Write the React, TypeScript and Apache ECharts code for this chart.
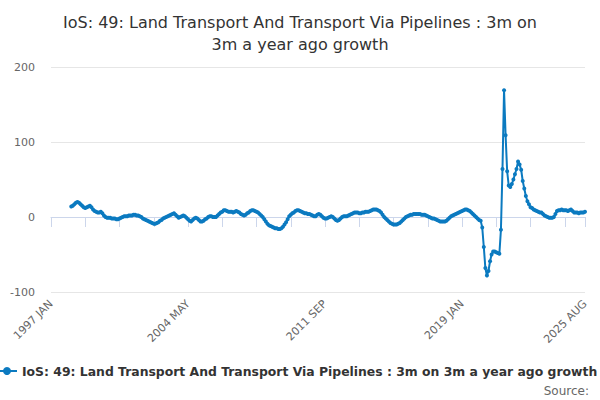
import React, { useEffect, useRef } from "react";
import * as echarts from "echarts";

const TITLE = "IoS: 49: Land Transport And Transport Via Pipelines : 3m on\n3m a year ago growth";
const SERIES_NAME = "IoS: 49: Land Transport And Transport Via Pipelines : 3m on 3m a year ago growth";
const MONTHS = ["JAN", "FEB", "MAR", "APR", "MAY", "JUN", "JUL", "AUG", "SEP", "OCT", "NOV", "DEC"];
const FIRST_YEAR = 1997;
const LAST_YEAR = 2025;
const LAST_MONTH_INDEX = 7; // AUG

const Y_TICKS = [-100, 0, 100, 200];

// one row per year, Jan..Dec
const v1997 = [null, null, null, null, null, null, null, null, null, null, null, null];
const v1998 = [null, 14, 15, 17, 19, 20, 19, 17, 15, 13, 12, 13];
const v1999 = [14, 15, 13, 10, 8, 7, 6, 6, 7, 5, 2, 0];
const v2000 = [-1, -1, -1, -2, -2, -2, -3, -3, -2, -1, 0, 1];
const v2001 = [1, 1, 2, 2, 2, 3, 3, 2, 2, 1, 0, -2];
const v2002 = [-3, -4, -5, -6, -7, -8, -9, -9, -8, -7, -5, -4];
const v2003 = [-2, -1, 0, 1, 2, 3, 4, 5, 3, 1, -1, 0];
const v2004 = [1, 2, 1, -1, -3, -5, -6, -4, -2, -1, -2, -4];
const v2005 = [-6, -6, -5, -3, -2, 0, 1, 1, 0, 0, 0, 2];
const v2006 = [4, 6, 7, 9, 9, 8, 7, 7, 7, 6, 7, 8];
const v2007 = [7, 6, 4, 3, 2, 3, 5, 6, 8, 9, 9, 8];
const v2008 = [7, 6, 4, 2, 0, -3, -6, -9, -11, -12, -13, -14];
const v2009 = [-15, -15, -16, -16, -15, -13, -10, -7, -3, 1, 3, 5];
const v2010 = [6, 8, 9, 9, 8, 7, 6, 5, 5, 4, 4, 3];
const v2011 = [2, 1, 1, 3, 4, 3, 1, -1, -2, -2, -1, 0];
const v2012 = [1, 0, -2, -4, -5, -4, -2, 0, 1, 1, 1, 2];
const v2013 = [3, 4, 5, 6, 6, 6, 5, 5, 6, 6, 7, 7];
const v2014 = [7, 8, 9, 10, 10, 10, 9, 8, 6, 3, 0, -2];
const v2015 = [-4, -6, -8, -9, -10, -10, -10, -9, -8, -6, -4, -2];
const v2016 = [0, 1, 2, 3, 3, 4, 4, 4, 4, 4, 3, 3];
const v2017 = [3, 2, 1, 0, -1, -2, -2, -3, -4, -5, -6, -6];
const v2018 = [-6, -6, -5, -3, -1, 1, 2, 3, 4, 5, 6, 7];
const v2019 = [8, 9, 10, 10, 9, 8, 6, 4, 2, 0, -2, -4];
const v2020 = [-5, -14, -40, -68, -78, -72, -59, -50, -46, -46, -47, -48];
const v2021 = [-49, -17, 64, 169, 109, 61, 42, 40, 44, 50, 57, 64];
const v2022 = [74, 70, 63, 48, 38, 28, 21, 17, 13, 12, 10, 9];
const v2023 = [8, 7, 6, 6, 4, 2, 1, 0, -1, -1, -1, 0];
const v2024 = [4, 8, 9, 9, 10, 9, 9, 9, 8, 9, 10, 8];
const v2025 = [6, 6, 6, 5, 6, 6, 6, 7];

const YEAR_ROWS = [
  v1997, v1998, v1999, v2000, v2001, v2002, v2003, v2004, v2005, v2006,
  v2007, v2008, v2009, v2010, v2011, v2012, v2013, v2014, v2015, v2016,
  v2017, v2018, v2019, v2020, v2021, v2022, v2023, v2024, v2025,
];

const FONT = "DejaVu Sans";

export default function App() {
  const ref = useRef<HTMLDivElement>(null);

  useEffect(() => {
    if (!ref.current) return;
    const categories: string[] = [];
    for (let y = FIRST_YEAR; y <= LAST_YEAR; y++) {
      const lastM = y === LAST_YEAR ? LAST_MONTH_INDEX : 11;
      for (let m = 0; m <= lastM; m++) categories.push(`${y} ${MONTHS[m]}`);
    }
    const values: (number | null)[] = [];
    YEAR_ROWS.forEach((row) => row.forEach((v) => values.push(v)));
    const lastIdx = categories.length - 1;

    const chart = echarts.init(ref.current, undefined, { renderer: "svg" });
    chart.setOption({
      animation: false,
      backgroundColor: "#ffffff",
      textStyle: { fontFamily: FONT },
      title: {
        text: TITLE,
        left: "center",
        top: 6,
        textStyle: {
          fontFamily: FONT,
          fontSize: 16,
          fontWeight: "normal",
          color: "#333333",
          lineHeight: 22,
        },
      },
      grid: { left: 51, right: 15, top: 67, bottom: 108, containLabel: false },
      legend: {
        data: [SERIES_NAME],
        left: -4,
        top: 365,
        padding: 0,
        itemWidth: 20,
        itemHeight: 10,
        itemGap: 5,
        textStyle: { fontFamily: FONT, fontSize: 12.4, fontWeight: "bold", color: "#333333" },
      },
      graphic: [
        {
          type: "text",
          right: 11,
          top: 385,
          style: { text: "Source:", fontFamily: FONT, fontSize: 12, fill: "#666666" },
        },
      ],
      xAxis: {
        type: "category",
        data: categories,
        boundaryGap: false,
        axisLine: { lineStyle: { color: "#ccd6eb", width: 1 } },
        axisTick: {
          length: 10,
          lineStyle: { color: "#ccd6eb" },
          interval: (i: number) => i % 22 === 0 || i === lastIdx,
        },
        axisLabel: {
          rotate: 45,
          margin: 10,
          fontSize: 11,
          color: "#666666",
          fontFamily: FONT,
          interval: (i: number) => i % 88 === 0 || i === lastIdx,
        },
        splitLine: { show: false },
      },
      yAxis: {
        type: "value",
        min: Y_TICKS[0],
        max: Y_TICKS[Y_TICKS.length - 1],
        interval: 100,
        axisLine: { show: false },
        axisTick: { show: false },
        axisLabel: { fontSize: 11, color: "#666666", margin: 16, fontFamily: FONT },
        splitLine: { lineStyle: { color: "#e6e6e6" } },
      },
      series: [
        {
          name: SERIES_NAME,
          type: "line",
          data: values,
          connectNulls: false,
          showSymbol: true,
          showAllSymbol: true,
          symbol: "circle",
          symbolSize: 4,
          itemStyle: { color: "#0b7ac0" },
          lineStyle: { color: "#0b7ac0", width: 2 },
        },
      ],
    });
    return () => chart.dispose();
  }, []);

  return (
    <div
      ref={ref}
      style={{ position: "fixed", left: 0, top: 0, width: 600, height: 400, background: "#fff" }}
    />
  );
}
